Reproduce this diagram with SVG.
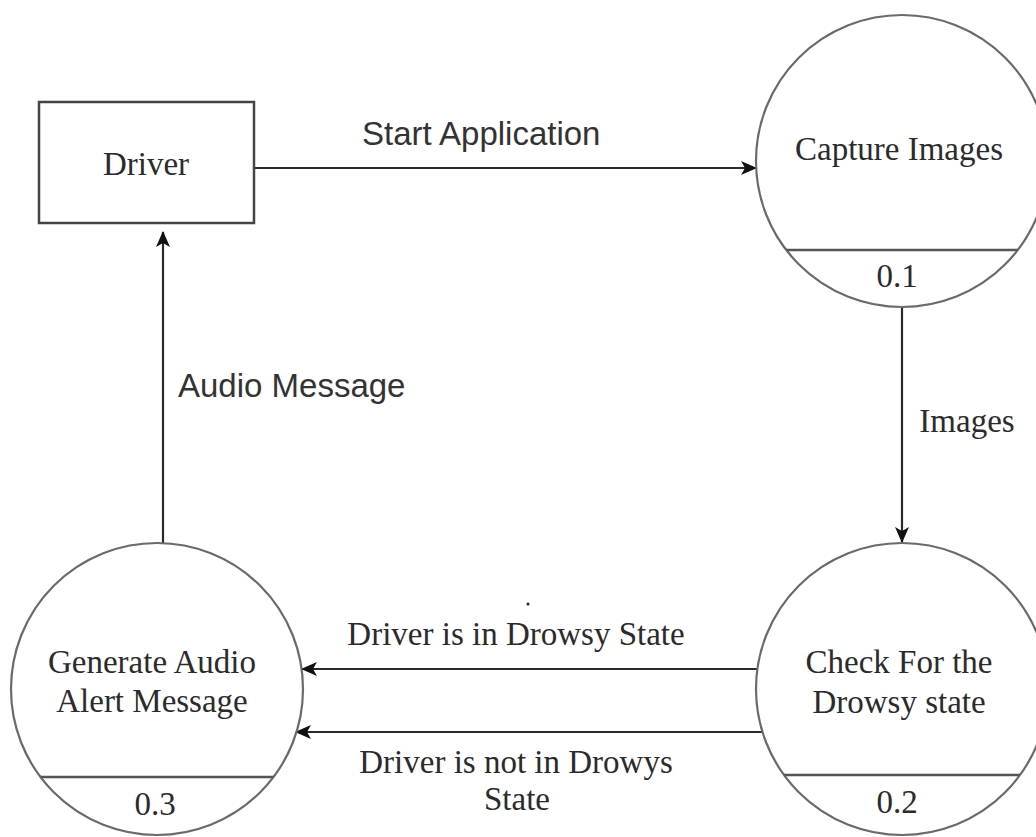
<svg xmlns="http://www.w3.org/2000/svg" width="1036" height="837" viewBox="0 0 1036 837">
<defs>
<style>
.serif{font-family:"Liberation Serif","Times New Roman",serif;font-size:33px;fill:#2b2b2b;text-anchor:middle}
.sans{font-family:"Liberation Sans",Arial,sans-serif;font-size:33px;fill:#333}
.proc{fill:#fff;stroke:#6a6a6a;stroke-width:2.2}
.div{stroke:#555;stroke-width:2.5}
.flow{stroke:#2a2a2a;stroke-width:2.2;fill:none;marker-end:url(#ah)}
</style>
<marker id="ah" viewBox="0 0 16 14" refX="15" refY="7" markerWidth="16" markerHeight="14" markerUnits="userSpaceOnUse" orient="auto">
<path d="M0,0 L16,7 L0,14 L4,7 Z" fill="#111"/>
</marker>
<clipPath id="c1"><circle cx="902" cy="161" r="146"/></clipPath>
<clipPath id="c2"><circle cx="902" cy="689" r="146"/></clipPath>
<clipPath id="c3"><circle cx="157" cy="689" r="146"/></clipPath>
</defs>
<rect width="1036" height="837" fill="#fff"/>

<g id="connectors">
<line class="flow" x1="254" y1="168" x2="756" y2="168"/>
<line class="flow" x1="902" y1="307" x2="902" y2="542"/>
<line class="flow" x1="757" y1="669" x2="302" y2="669"/>
<line class="flow" x1="762" y1="732" x2="296" y2="732"/>
<line class="flow" x1="163" y1="543" x2="163" y2="232"/>
<text class="sans" x="362" y="145">Start Application</text>
<text class="serif" x="967" y="432">Images</text>
<text class="serif" x="516" y="645">Driver is in Drowsy State</text>
<text class="serif" x="516" y="773">Driver is not in Drowys</text>
<text class="serif" x="517" y="810">State</text>
<text class="sans" x="178" y="397">Audio Message</text>
<circle cx="528" cy="604" r="1.5" fill="#224"/>
</g>

<g id="driver">
<rect x="39" y="102" width="215" height="121" fill="#fff" stroke="#444" stroke-width="2.5"/>
<text class="serif" x="146" y="175">Driver</text>
</g>

<g id="capture-images">
<circle class="proc" cx="902" cy="161" r="146"/>
<line class="div" x1="740" y1="250" x2="1060" y2="250" clip-path="url(#c1)"/>
<text class="serif" x="899" y="160">Capture Images</text>
<text class="serif" x="897" y="287">0.1</text>
</g>

<g id="check-drowsy">
<circle class="proc" cx="902" cy="689" r="146"/>
<line class="div" x1="740" y1="775" x2="1060" y2="775" clip-path="url(#c2)"/>
<text class="serif" x="899" y="673">Check For the</text>
<text class="serif" x="899" y="713">Drowsy state</text>
<text class="serif" x="897" y="813">0.2</text>
</g>

<g id="generate-alert">
<circle class="proc" cx="157" cy="689" r="146"/>
<line class="div" x1="0" y1="777" x2="320" y2="777" clip-path="url(#c3)"/>
<text class="serif" x="152" y="673">Generate Audio</text>
<text class="serif" x="152" y="712">Alert Message</text>
<text class="serif" x="155" y="815">0.3</text>
</g>
</svg>
